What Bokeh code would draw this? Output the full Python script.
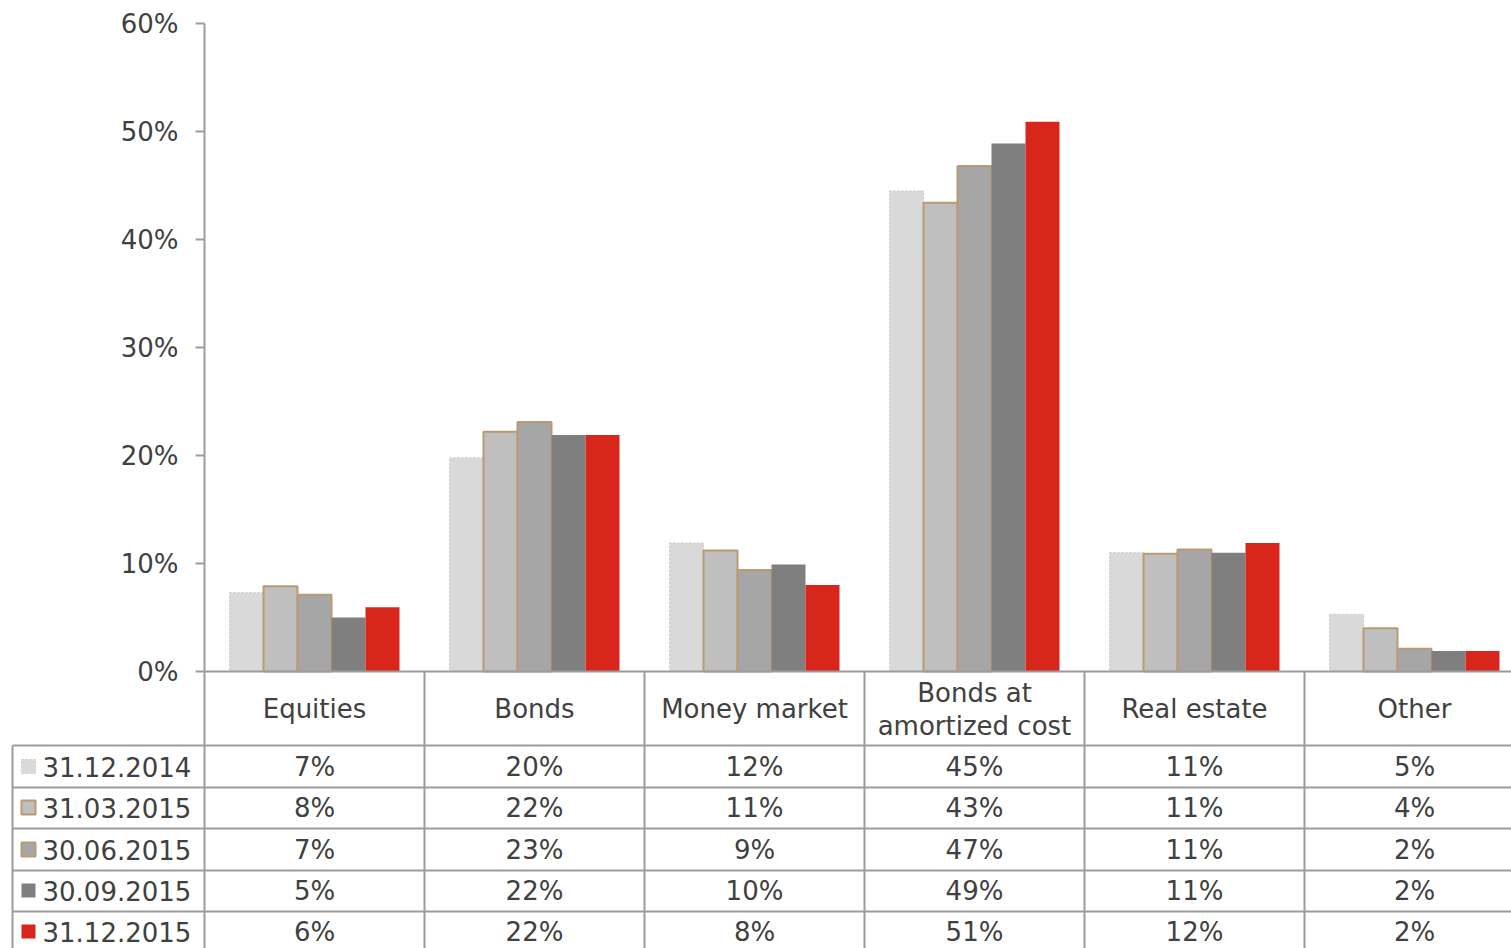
from bokeh.plotting import figure
from bokeh.models import Range1d, LinearAxis, FixedTicker, PrintfTickFormatter, ColumnDataSource
from bokeh.core.properties import value
from bokeh.embed import file_html
from bokeh.resources import INLINE

# ---------------- data ----------------
categories = ["Equities", "Bonds", "Money market", "Bonds at\namortized cost", "Real estate", "Other"]
series_names = ["31.12.2014", "31.03.2015", "30.06.2015", "30.09.2015", "31.12.2015"]

s_2014_12 = [7.3, 19.8, 11.9, 44.5, 11.0, 5.3]
s_2015_03 = [7.9, 22.2, 11.2, 43.4, 10.9, 4.0]
s_2015_06 = [7.1, 23.1, 9.4, 46.8, 11.3, 2.1]
s_2015_09 = [5.0, 21.9, 9.9, 48.9, 11.0, 1.9]
s_2015_12 = [5.95, 21.9, 8.0, 50.9, 11.9, 1.9]

t_2014_12 = ["7%", "20%", "12%", "45%", "11%", "5%"]
t_2015_03 = ["8%", "22%", "11%", "43%", "11%", "4%"]
t_2015_06 = ["7%", "23%", "9%", "47%", "11%", "2%"]
t_2015_09 = ["5%", "22%", "10%", "49%", "11%", "2%"]
t_2015_12 = ["6%", "22%", "8%", "51%", "12%", "2%"]

y_ticks = [0, 10, 20, 30, 40, 50, 60]

series = [s_2014_12, s_2015_03, s_2015_06, s_2015_09, s_2015_12]
table = [t_2014_12, t_2015_03, t_2015_06, t_2015_09, t_2015_12]

# ---------------- styles ----------------
fills = ["#d9d9d9", "#bfbfbf", "#a6a6a6", "#7f7f7f", "#d9261c"]
outlines = ["#d6c7b1", "#b99a72", "#b99a72", None, None]
outline_w = [1, 2, 2, 0, 0]
outline_dash = ["2 2", "solid", "solid", "solid", "solid"]
FONT = "DejaVu Sans"
TXT = "#404040"
GRID = "#9c9c9c"

W, H = 1511, 948
# page geometry (px): y-axis at x=204, category width 220, 0% at y=671, 10.8px per 1%
PX0, CW, PY0, YS = 204.0, 220.0, 671.0, 10.8
def dx(px):
    return (px - PX0) / CW
def dy(py):
    return (PY0 - py) / YS

x0, x1 = dx(0), dx(W)
y0, y1 = dy(H), dy(0)

p = figure(width=W, height=H, output_backend="svg", toolbar_location=None,
           x_range=Range1d(x0, x1), y_range=Range1d(y0, y1),
           x_axis_type=None, y_axis_type=None, min_border=0)
p.outline_line_color = None
p.background_fill_color = "white"
p.border_fill_color = "white"

# ---------------- bars ----------------
n = len(categories)
bw = 34.0 / CW
for k, vals in enumerate(series):
    xs = [i + 0.5 + (k - 2) * bw for i in range(n)]
    src = ColumnDataSource(dict(x=xs, top=vals))
    kw = dict(fill_color=fills[k])
    if outlines[k] is None:
        kw.update(line_color=None)
    else:
        kw.update(line_color=outlines[k], line_width=outline_w[k], line_dash=outline_dash[k])
    p.vbar(x="x", top="top", bottom=0, width=bw, source=src, **kw)

# ---------------- table grid ----------------
row_lines_py = [745, 787, 828, 870, 911]
bottom = y0 - 1
# horizontal base line (x axis)
p.segment(x0=[0], y0=[0], x1=[x1 + 1], y1=[0], line_color=GRID, line_width=2)
# row lines
p.segment(x0=[dx(12)] * len(row_lines_py), y0=[dy(v) for v in row_lines_py],
          x1=[x1 + 1] * len(row_lines_py), y1=[dy(v) for v in row_lines_py],
          line_color=GRID, line_width=2)
# category column separators
p.segment(x0=list(range(n)), y0=[0] * n, x1=list(range(n)), y1=[bottom] * n,
          line_color=GRID, line_width=2)
# leftmost border of the row labels
p.segment(x0=[dx(12)], y0=[dy(745)], x1=[dx(12)], y1=[bottom], line_color=GRID, line_width=2)

# ---------------- y axis ----------------
yaxis = LinearAxis(fixed_location=0, bounds=(0, 60), ticker=FixedTicker(ticks=y_ticks),
                   formatter=PrintfTickFormatter(format="%d%%"))
yaxis.axis_line_color = GRID
yaxis.axis_line_width = 2
yaxis.major_tick_line_color = GRID
yaxis.major_tick_line_width = 2
yaxis.major_tick_out = 9
yaxis.major_tick_in = 0
yaxis.minor_tick_line_color = None
yaxis.major_label_text_font = FONT
yaxis.major_label_text_font_size = "26px"
yaxis.major_label_text_color = TXT
yaxis.major_label_standoff = 17
p.add_layout(yaxis, "left")

# ---------------- header labels ----------------
hx, hy, ht = [], [], []
for i, c in enumerate(categories):
    lines = c.split("\n")
    if len(lines) == 1:
        hx.append(i + 0.5); hy.append(dy(708)); ht.append(lines[0])
    else:
        for j, ln in enumerate(lines):
            hx.append(i + 0.5); hy.append(dy(692 + 33 * j)); ht.append(ln)
p.text(x=hx, y=hy, text=ht, text_font=value(FONT), text_font_size=value("26px"),
       text_color=TXT, text_align="center", text_baseline="middle")

# ---------------- table values ----------------
row_centers_py = [766, 807, 849, 890, 931]
tx, ty, tt = [], [], []
for k, row in enumerate(table):
    for i, t in enumerate(row):
        tx.append(i + 0.5); ty.append(dy(row_centers_py[k])); tt.append(t)
p.text(x=tx, y=ty, text=tt, text_font=value(FONT), text_font_size=value("26px"),
       text_color=TXT, text_align="center", text_baseline="middle")

# row labels with legend keys
p.text(x=[dx(42)] * 5, y=[dy(v) for v in row_centers_py], text=series_names,
       text_font=value(FONT), text_font_size=value("26px"), text_color=TXT,
       text_align="left", text_baseline="middle")
for k in range(5):
    kw = dict(fill_color=fills[k])
    if outlines[k] is None:
        kw.update(line_color=None)
    else:
        kw.update(line_color=outlines[k], line_width=outline_w[k], line_dash=outline_dash[k])
    p.rect(x=[dx(28)], y=[dy(row_centers_py[k])], width=14, height=14,
           width_units="screen", height_units="screen", **kw)

open("out.html", "w").write(file_html(p, INLINE))
